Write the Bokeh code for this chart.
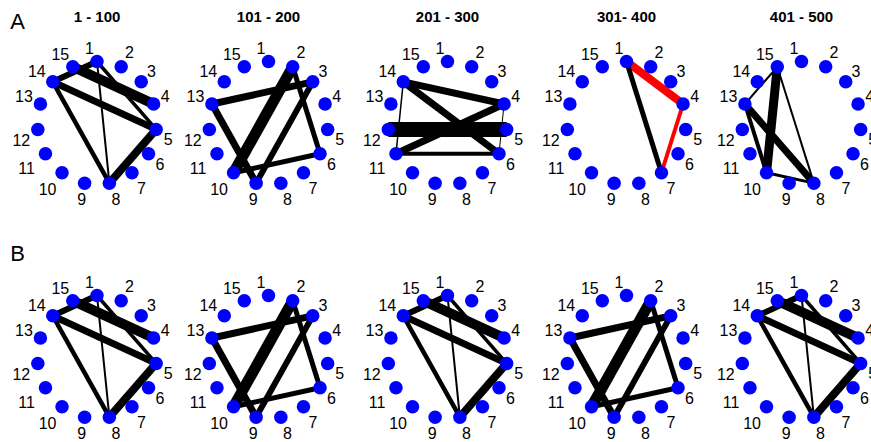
import numpy as np
from bokeh.plotting import figure
from bokeh.models import Range1d, ColumnDataSource
from bokeh.core.properties import value
from bokeh.embed import file_html
from bokeh.resources import INLINE

# ---------------- data ----------------
NODE_LABELS = [str(i) for i in range(1, 16)]
TITLES = ["1 - 100", "101 - 200", "201 - 300", "301- 400", "401 - 500"]
ROW_LABELS = ["A", "B"]

# network seen in "1 - 100" (and B1, B3, B5)
NET1_SRC = [14, 15, 14, 14, 1, 1, 5]
NET1_TGT = [1, 4, 5, 8, 8, 5, 8]
NET1_W = [6, 10, 7, 4.5, 2, 3.5, 8]
NET1_COL = ["black"] * 7

# network seen in "101 - 200" (and B2, B4)
NET2_SRC = [13, 13, 2, 2, 3, 6]
NET2_TGT = [3, 9, 10, 6, 9, 10]
NET2_W = [7, 7, 11, 5, 6, 5]
NET2_COL = ["black"] * 6

# "201 - 300"
NET3_SRC = [14, 14, 11, 11, 12, 14, 4]
NET3_TGT = [4, 6, 4, 6, 5, 11, 6]
NET3_W = [7, 7, 7, 4, 15, 1.5, 1]
NET3_COL = ["black"] * 7

# "301- 400"
NET4_SRC = [1, 4, 1]
NET4_TGT = [4, 7, 7]
NET4_W = [8, 4, 5]
NET4_COL = ["red", "red", "black"]

# "401 - 500"
NET5_SRC = [15, 15, 15, 13, 13, 10]
NET5_TGT = [10, 13, 8, 10, 8, 8]
NET5_W = [9, 2, 2, 4, 7, 3]
NET5_COL = ["black"] * 6

NET1 = (NET1_SRC, NET1_TGT, NET1_W, NET1_COL)
NET2 = (NET2_SRC, NET2_TGT, NET2_W, NET2_COL)
NET3 = (NET3_SRC, NET3_TGT, NET3_W, NET3_COL)
NET4 = (NET4_SRC, NET4_TGT, NET4_W, NET4_COL)
NET5 = (NET5_SRC, NET5_TGT, NET5_W, NET5_COL)

ROW_A_NETS = [NET1, NET2, NET3, NET4, NET5]
ROW_B_NETS = [NET1, NET2, NET1, NET2, NET1]

# ---------------- layout ----------------
W, H = 871, 442
PANEL_CX = [96.5, 268, 447, 626, 801]
ROW_CY = [122.5, 356.5]
RX, RY = 59.5, 61.5
LABEL_DX = [-7.5, 8.3, 10.3, 11.5, 12, 11.5, 9.5, 6.7, -3, -14.5, -18.8, -16.5, -16.5, -16, -12.5]
LABEL_DY = [-14, -14.5, -11, -7.5, 10, 10.7, 15.7, 15.5, 15.5, 16.7, 14, 11, -7.5, -10.4, -12.5]
FONT = "Liberation Sans"

p = figure(width=W, height=H, x_range=Range1d(0, W), y_range=Range1d(H, 0),
           output_backend="svg", toolbar_location=None, min_border=0,
           x_axis_location=None, y_axis_location=None, outline_line_color=None)
p.xgrid.visible = False
p.ygrid.visible = False

theta = np.deg2rad(90 - 24 * np.arange(15))

for r, nets in enumerate([ROW_A_NETS, ROW_B_NETS]):
    cy = ROW_CY[r]
    for c, net in enumerate(nets):
        cx = PANEL_CX[c]
        nx = cx + RX * np.cos(theta)
        ny = cy - RY * np.sin(theta)
        src, tgt, w, col = net
        si = np.array(src) - 1
        ti = np.array(tgt) - 1
        es = ColumnDataSource(dict(x0=nx[si], y0=ny[si], x1=nx[ti], y1=ny[ti],
                                   w=list(w), c=list(col)))
        p.segment(x0="x0", y0="y0", x1="x1", y1="y1", line_width="w",
                  line_color="c", source=es)
        p.scatter(nx, ny, size=13.5, fill_color="#0000FF", line_color=None)
        p.text(nx + np.array(LABEL_DX), ny + np.array(LABEL_DY), text=NODE_LABELS,
               text_font=value(FONT), text_font_size="16px", text_color="black",
               text_align="center", text_baseline="middle")

# titles over row A
p.text(PANEL_CX, [16] * 5, text=TITLES, text_font=value(FONT), text_font_size="15px",
       text_font_style="bold", text_align="center", text_baseline="middle",
       text_color="black")

# row letters
p.text([17, 17], [21, 253], text=ROW_LABELS, text_font=value(FONT),
       text_font_size="22px", text_align="center", text_baseline="middle",
       text_color="black")

open("out.html", "w").write(file_html(p, INLINE))
